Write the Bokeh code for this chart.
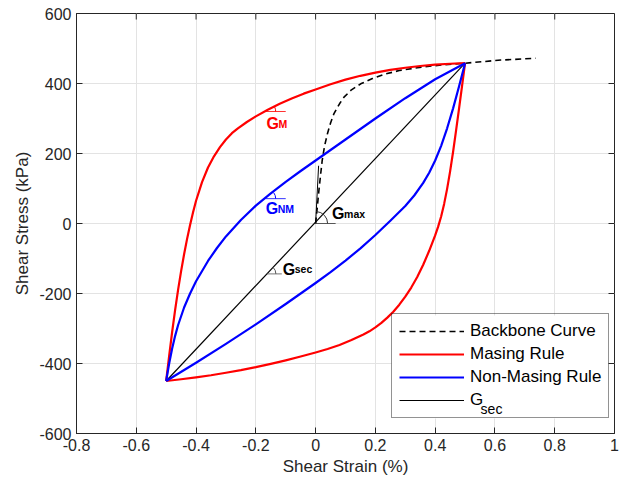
import math
from bokeh.plotting import figure
from bokeh.models import Range1d, FixedTicker, Legend, LegendItem, Label, BoxAnnotation
from bokeh.embed import file_html
from bokeh.resources import INLINE

# ---------------- data ----------------
backbone_x = [0, 0.006, 0.011, 0.017, 0.022, 0.03, 0.04, 0.05, 0.061, 0.08, 0.095, 0.12,
              0.151, 0.19, 0.228, 0.28, 0.34, 0.42, 0.5, 0.62, 0.736]
backbone_y = [0, 50, 94, 142, 180, 222, 258, 287, 313, 342, 361, 382,
              399, 414, 426, 437, 445, 453, 458, 467, 472]

masing_unload_x = [-0.5, -0.49, -0.48, -0.47, -0.46, -0.45, -0.44, -0.43, -0.42, -0.41, -0.40,
                   -0.38, -0.36, -0.34, -0.32, -0.30, -0.28, -0.26, -0.23, -0.20, -0.16, -0.12,
                   -0.08, -0.04, 0.0, 0.05, 0.10, 0.15, 0.20, 0.25, 0.30, 0.35, 0.40, 0.45, 0.5]
masing_unload_y = [-450, -378, -310, -247, -189, -136, -88, -44, -4, 32, 65,
                   118, 160, 192, 218, 240, 258, 272, 290, 306, 325, 342,
                   357, 371, 383, 398, 411, 422, 431, 439, 445, 450, 454, 456.5, 458]

masing_reload_x = [-0.5, -0.45, -0.4, -0.35, -0.3, -0.25, -0.2, -0.15, -0.1, -0.05, 0.0, 0.04,
                   0.08, 0.12, 0.16, 0.18, 0.2, 0.22, 0.24, 0.26, 0.28, 0.3, 0.32, 0.34, 0.36,
                   0.38, 0.4, 0.41, 0.42, 0.43, 0.44, 0.45, 0.46, 0.47, 0.48, 0.49, 0.5]
masing_reload_y = [-450, -445, -439.5, -433.5, -426.5, -419, -410.5, -401, -391, -380, -368.5, -358.5,
                   -347, -333, -317, -308, -297, -284, -269, -252, -232, -209, -183, -153, -118,
                   -78, -34, -9, 20, 56, 99, 149, 205, 266, 329, 393, 458]

nonmasing_unload_x = [-0.5, -0.49, -0.48, -0.47, -0.46, -0.44, -0.42, -0.4, -0.36, -0.33, -0.3,
                      -0.25, -0.2, -0.15, -0.1, -0.05, 0.0, 0.1, 0.2, 0.3, 0.4, 0.5]
nonmasing_unload_y = [-450, -400, -357, -321, -290, -240, -200, -165, -107, -70, -37,
                      10, 51, 86, 119, 150, 180, 240, 300, 358, 412, 458]

nonmasing_reload_x = [-0.5, -0.4, -0.3, -0.2, -0.1, 0.0, 0.05, 0.1, 0.15, 0.2, 0.25, 0.3,
                      0.33, 0.36, 0.38, 0.4, 0.42, 0.44, 0.46, 0.48, 0.5]
nonmasing_reload_y = [-450, -398, -344, -288, -230, -170, -139, -106, -71, -33, 8, 50,
                      80, 116, 145, 180, 222, 272, 329, 392, 458]

secant_x = [-0.5, 0.5]
secant_y = [-450, 458]

gmax_x = [0, 0.010]
gmax_y = [0, 165]

x_ticks = [-0.8, -0.6, -0.4, -0.2, 0, 0.2, 0.4, 0.6, 0.8, 1]
x_tick_labels = ["-0.8", "-0.6", "-0.4", "-0.2", "0", "0.2", "0.4", "0.6", "0.8", "1"]
y_ticks = [-600, -400, -200, 0, 200, 400, 600]
y_tick_labels = ["-600", "-400", "-200", "0", "200", "400", "600"]

legend_labels = ["Backbone Curve", "Masing Rule", "Non-Masing Rule", "G"]

# ---------------- styling ----------------
FONT = "Liberation Sans"
AX = "#262626"
RED = "#ff0000"
BLUE = "#0000ff"
X0, X1, Y0, Y1 = -0.8, 1, -600, 600

p = figure(width=622, height=482, x_range=Range1d(X0, X1), y_range=Range1d(Y0, Y1),
           output_backend="svg", toolbar_location=None,
           min_border_left=76, min_border_top=13, min_border_right=8, min_border_bottom=49)
p.outline_line_color = AX
p.background_fill_color = "white"

for ax, ticks, labels in ((p.xaxis[0], x_ticks, x_tick_labels), (p.yaxis[0], y_ticks, y_tick_labels)):
    ax.ticker = FixedTicker(ticks=ticks)
    ax.major_label_overrides = {t: l for t, l in zip(ticks, labels)}
    ax.major_tick_in = 6
    ax.major_tick_out = 0
    ax.minor_tick_line_color = None
    ax.axis_line_color = AX
    ax.major_tick_line_color = AX
    ax.major_label_text_color = AX
    ax.major_label_text_font = FONT
    ax.major_label_text_font_size = "16px"
    ax.axis_label_text_font = FONT
    ax.axis_label_text_font_size = "17px"
    ax.axis_label_text_font_style = "normal"
    ax.axis_label_text_color = AX

p.xaxis.axis_label = "Shear Strain (%)"
p.yaxis.axis_label = "Shear Stress (kPa)"
p.xaxis.major_label_standoff = 5
p.xaxis.axis_label_standoff = 3
p.yaxis.major_label_standoff = 5
p.yaxis.axis_label_standoff = 4

# inward ticks on the top and right edges of the box
p.ray(x=x_ticks, y=Y1, length=6, length_units="screen", angle=-math.pi / 2,
      line_color=AX, line_width=1)
p.ray(x=X1, y=y_ticks, length=6, length_units="screen", angle=math.pi,
      line_color=AX, line_width=1)

p.xgrid.ticker = FixedTicker(ticks=x_ticks)
p.ygrid.ticker = FixedTicker(ticks=y_ticks)
p.grid.grid_line_color = "#e3e3e3"
p.grid.grid_line_width = 1

# white backing of the legend box (legend itself is transparent so the subscript shows)
p.add_layout(BoxAnnotation(left=0.254, right=0.981, top=-263, bottom=-557,
                           fill_color="white", fill_alpha=1, line_color=None, level="underlay"))

# ---------------- curves ----------------
r_sec = p.line(secant_x, secant_y, line_color="black", line_width=1.2)
r_bb = p.line(backbone_x, backbone_y, line_color="black", line_width=1.6, line_dash="6 4")
r_m1 = p.line(masing_unload_x, masing_unload_y, line_color=RED, line_width=2.2, line_join="round")
p.line(masing_reload_x, masing_reload_y, line_color=RED, line_width=2.2, line_join="round")
r_n1 = p.line(nonmasing_unload_x, nonmasing_unload_y, line_color=BLUE, line_width=2.2, line_join="round")
p.line(nonmasing_reload_x, nonmasing_reload_y, line_color=BLUE, line_width=2.2, line_join="round")
p.line(gmax_x, gmax_y, line_color="black", line_width=1)

# ---------------- angle markers ----------------
markers = [
    # (x, y, length, radius, end_angle, color)
    (-0.167, 320, 0.067, 10, 0.46, RED),
    (-0.167, 71, 0.067, 10, 0.65, BLUE),
    (0.0, 0.0, 0.067, 12, 1.50, "#333333"),
    (-0.163, -144, 0.050, 9, 0.82, "#555555"),
]
for mx, my, ml, mr, ma, mc in markers:
    p.line([mx, mx + ml], [my, my], line_color=mc, line_width=1, line_alpha=0.8)
    p.arc(x=mx, y=my, radius=mr, radius_units="screen", start_angle=0, end_angle=ma,
          line_color=mc, line_width=1)

labels = [
    # (x, y, main, sub, color, sub offset)
    (-0.164, 285, "G", "M", RED, 12),
    (-0.167, 42, "G", "NM", BLUE, 12),
    (0.055, 28, "G", "max", "black", 12),
    (-0.110, -130, "G", "sec", "black", 12),
]
for lx, ly, main, sub, col, off in labels:
    p.add_layout(Label(x=lx, y=ly, text=main, text_color=col, text_font=FONT,
                       text_font_size="16px", text_font_style="bold", text_baseline="alphabetic"))
    p.add_layout(Label(x=lx, y=ly, x_offset=off, text=sub, text_color=col, text_font=FONT,
                       text_font_size="10.5px", text_font_style="bold", text_baseline="alphabetic"))

# ---------------- legend ----------------
legend = Legend(items=[LegendItem(label=legend_labels[0], renderers=[r_bb]),
                       LegendItem(label=legend_labels[1], renderers=[r_m1]),
                       LegendItem(label=legend_labels[2], renderers=[r_n1]),
                       LegendItem(label=legend_labels[3], renderers=[r_sec])],
                location=(315, 15), padding=7, spacing=3, margin=0,
                glyph_width=65, glyph_height=20, label_height=20, label_standoff=6,
                label_text_font=FONT, label_text_font_size="17px", label_text_color="black",
                border_line_color=AX, border_line_width=1, background_fill_alpha=0)
p.add_layout(legend)
p.add_layout(Label(x=0.552, y=-530, text="sec", text_font=FONT, text_font_size="14px",
                   text_color="black", text_baseline="alphabetic", level="overlay"))

open("out.html", "w").write(file_html(p, INLINE))
